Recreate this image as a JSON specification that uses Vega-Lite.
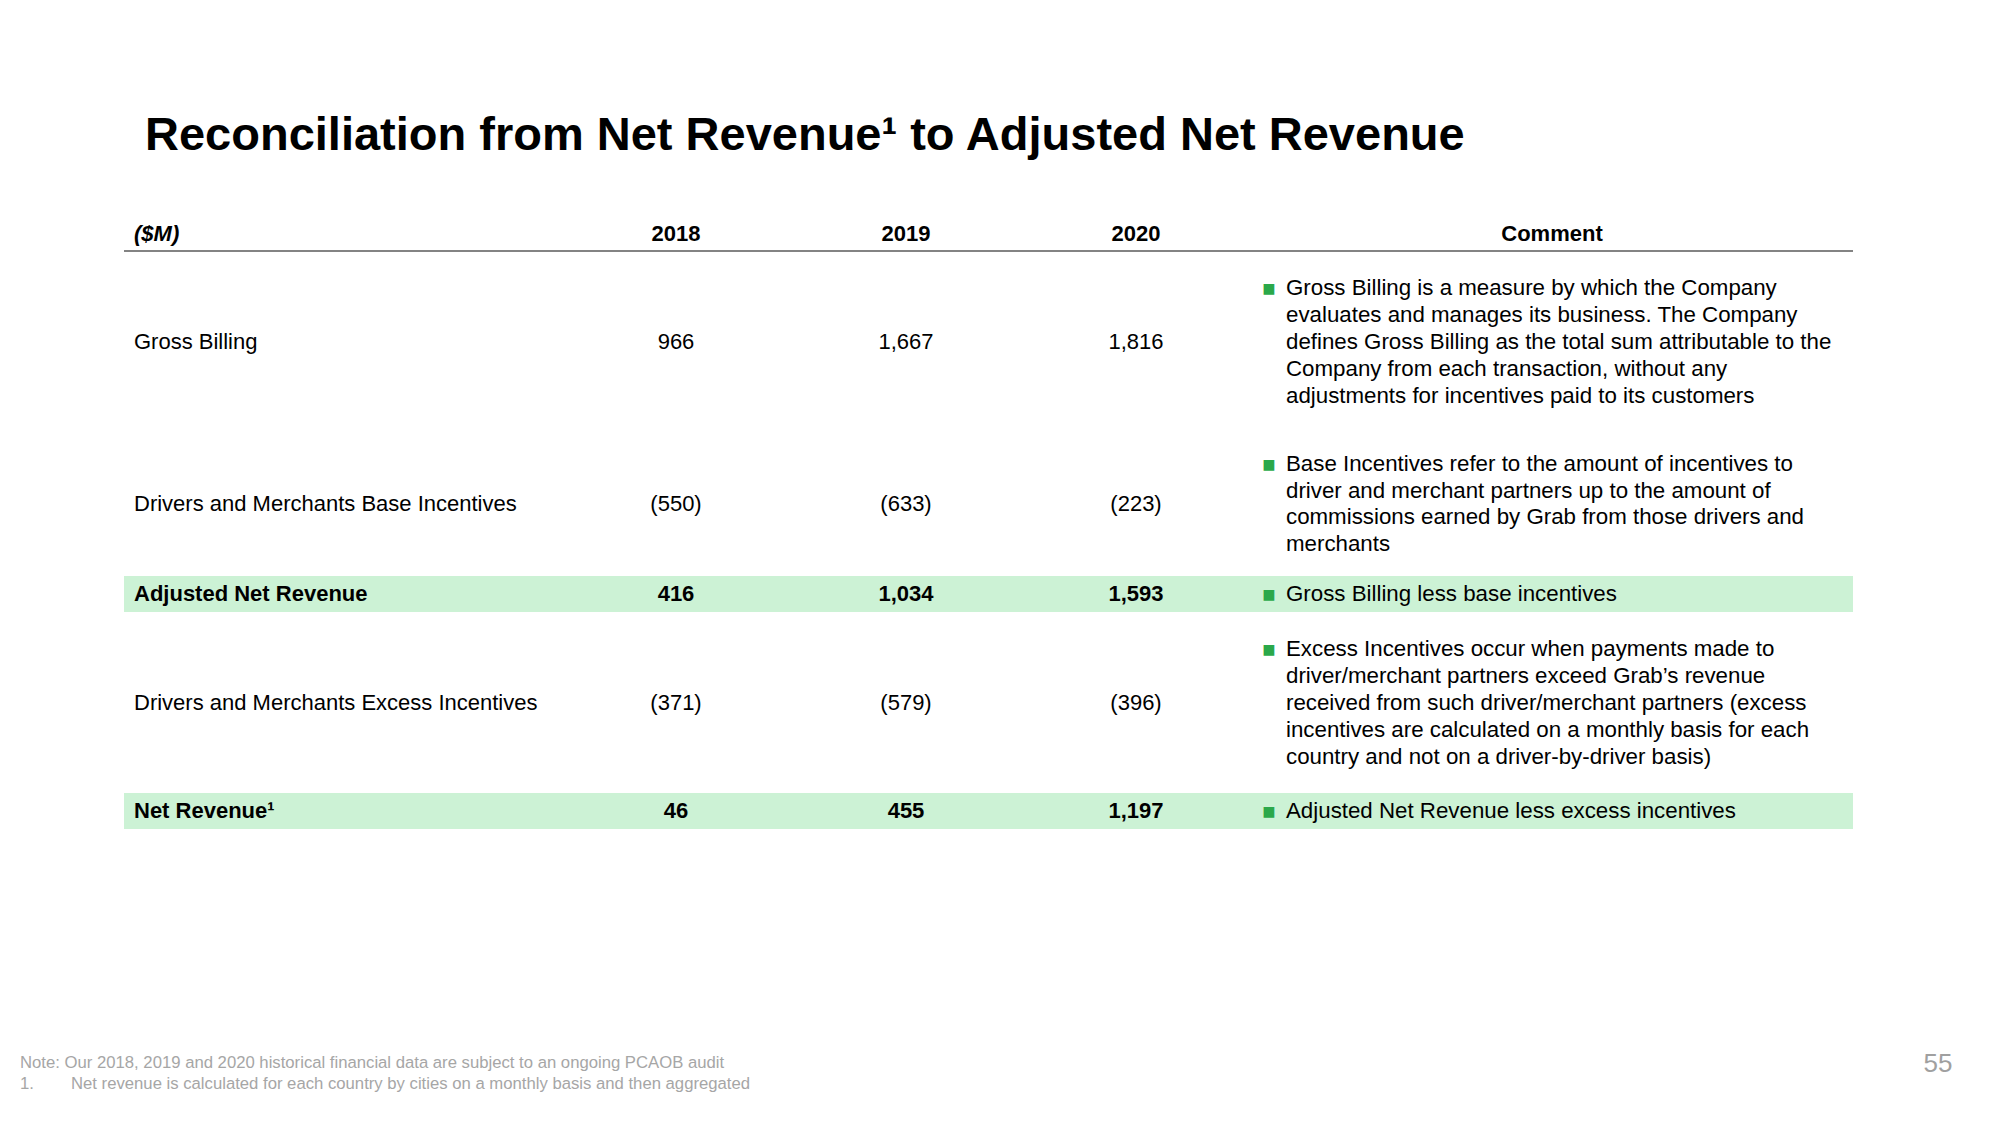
{
  "$schema": "https://vega.github.io/schema/vega-lite/v6.json",
  "width": 2000,
  "height": 1125,
  "padding": 0,
  "autosize": {"type": "none"},
  "background": "#ffffff",
  "title": {
    "text": "Reconciliation from Net Revenue¹ to Adjusted Net Revenue",
    "anchor": "start",
    "frame": "group",
    "orient": "top",
    "offset": -197,
    "dx": 145,
    "baseline": "alphabetic",
    "font": "Liberation Sans",
    "fontSize": 47,
    "fontWeight": "bold",
    "color": "#000000"
  },
  "config": {"view": {"stroke": null}},
  "datasets": {
    "table": [
      {"order": 1, "item": "Gross Billing", "total": false, "2018": "966", "2019": "1,667", "2020": "1,816",
       "comment": ["Gross Billing is a measure by which the Company", "evaluates and manages its business. The Company", "defines Gross Billing as the total sum attributable to the", "Company from each transaction, without any", "adjustments for incentives paid to its customers"]},
      {"order": 2, "item": "Drivers and Merchants Base Incentives", "total": false, "2018": "(550)", "2019": "(633)", "2020": "(223)",
       "comment": ["Base Incentives refer to the amount of incentives to", "driver and merchant partners up to the amount of", "commissions earned by Grab from those drivers and", "merchants"]},
      {"order": 3, "item": "Adjusted Net Revenue", "total": true, "2018": "416", "2019": "1,034", "2020": "1,593",
       "comment": ["Gross Billing less base incentives"]},
      {"order": 4, "item": "Drivers and Merchants Excess Incentives", "total": false, "2018": "(371)", "2019": "(579)", "2020": "(396)",
       "comment": ["Excess Incentives occur when payments made to", "driver/merchant partners exceed Grab’s revenue", "received from such driver/merchant partners (excess", "incentives are calculated on a monthly basis for each", "country and not on a driver-by-driver basis)"]},
      {"order": 5, "item": "Net Revenue¹", "total": true, "2018": "46", "2019": "455", "2020": "1,197",
       "comment": ["Adjusted Net Revenue less excess incentives"]}
    ],
    "notes": [
      {"marker": "Note:", "text": "Note: Our 2018, 2019 and 2020 historical financial data are subject to an ongoing PCAOB audit", "line": 1},
      {"marker": "1.", "text": "Net revenue is calculated for each country by cities on a monthly basis and then aggregated", "line": 2}
    ]
  },
  "layer": [
    {
      "data": {"name": "table"},
      "transform": [{"filter": "datum.total"}],
      "mark": {"type": "rule", "stroke": "#CCF2D5", "strokeWidth": 36, "strokeCap": "butt"},
      "encoding": {
        "y": {"field": "order", "type": "quantitative", "axis": null,
              "scale": {"domain": [0, 1, 2, 3, 4, 5], "range": [234, 342, 504, 594, 703, 811], "zero": false, "nice": false}},
        "x": {"value": 124},
        "x2": {"value": 1853}
      }
    },
    {
      "data": {"values": [{"line": "header"}]},
      "mark": {"type": "rule", "stroke": "#5a5a5a", "strokeWidth": 1.5},
      "encoding": {
        "y": {"value": 251},
        "x": {"value": 124},
        "x2": {"value": 1853}
      }
    },
    {
      "data": {"values": [{"label": "($M)"}]},
      "mark": {"type": "text", "align": "left", "baseline": "middle", "font": "Liberation Sans", "fontSize": 22, "fontWeight": "bold", "fontStyle": "italic", "color": "#000000"},
      "encoding": {
        "text": {"field": "label", "type": "nominal"},
        "x": {"value": 134},
        "y": {"datum": 0, "type": "quantitative", "axis": null,
              "scale": {"domain": [0, 1, 2, 3, 4, 5], "range": [234, 342, 504, 594, 703, 811], "zero": false, "nice": false}}
      }
    },
    {
      "data": {"values": [{"label": "Comment"}]},
      "mark": {"type": "text", "align": "center", "baseline": "middle", "font": "Liberation Sans", "fontSize": 22, "fontWeight": "bold", "color": "#000000"},
      "encoding": {
        "text": {"field": "label", "type": "nominal"},
        "x": {"value": 1552},
        "y": {"datum": 0, "type": "quantitative", "axis": null,
              "scale": {"domain": [0, 1, 2, 3, 4, 5], "range": [234, 342, 504, 594, 703, 811], "zero": false, "nice": false}}
      }
    },
    {
      "data": {"name": "table"},
      "transform": [{"filter": "datum.order == 1"}, {"fold": ["2018", "2019", "2020"], "as": ["year", "value"]}],
      "mark": {"type": "text", "align": "center", "baseline": "middle", "font": "Liberation Sans", "fontSize": 22, "fontWeight": "bold", "color": "#000000"},
      "encoding": {
        "text": {"field": "year", "type": "nominal"},
        "x": {"field": "year", "type": "ordinal", "axis": null,
              "scale": {"type": "point", "domain": ["2018", "2019", "2020"], "range": [676, 1136], "padding": 0}},
        "y": {"datum": 0, "type": "quantitative", "axis": null,
              "scale": {"domain": [0, 1, 2, 3, 4, 5], "range": [234, 342, 504, 594, 703, 811], "zero": false, "nice": false}}
      }
    },
    {
      "data": {"name": "table"},
      "mark": {"type": "text", "align": "left", "baseline": "middle", "font": "Liberation Sans", "fontSize": 22, "color": "#000000",
               "fontWeight": {"expr": "datum.total ? 'bold' : 'normal'"}},
      "encoding": {
        "text": {"field": "item", "type": "nominal"},
        "x": {"value": 134},
        "y": {"field": "order", "type": "quantitative", "axis": null,
              "scale": {"domain": [0, 1, 2, 3, 4, 5], "range": [234, 342, 504, 594, 703, 811], "zero": false, "nice": false}}
      }
    },
    {
      "data": {"name": "table"},
      "transform": [{"fold": ["2018", "2019", "2020"], "as": ["year", "value"]}],
      "mark": {"type": "text", "align": "center", "baseline": "middle", "font": "Liberation Sans", "fontSize": 22, "color": "#000000",
               "fontWeight": {"expr": "datum.total ? 'bold' : 'normal'"}},
      "encoding": {
        "text": {"field": "value", "type": "nominal"},
        "x": {"field": "year", "type": "ordinal", "axis": null,
              "scale": {"type": "point", "domain": ["2018", "2019", "2020"], "range": [676, 1136], "padding": 0}},
        "y": {"field": "order", "type": "quantitative", "axis": null,
              "scale": {"domain": [0, 1, 2, 3, 4, 5], "range": [234, 342, 504, 594, 703, 811], "zero": false, "nice": false}}
      }
    },
    {
      "data": {"name": "table"},
      "mark": {"type": "text", "text": "■", "align": "center", "baseline": "middle", "font": "Liberation Sans", "fontSize": 22, "color": "#2BA84A",
               "dy": {"expr": "-(length(datum.comment) - 1) * 13.4 + 1"}},
      "encoding": {
        "x": {"value": 1269},
        "y": {"field": "order", "type": "quantitative", "axis": null,
              "scale": {"domain": [0, 1, 2, 3, 4, 5], "range": [234, 342, 504, 594, 703, 811], "zero": false, "nice": false}}
      }
    },
    {
      "data": {"name": "table"},
      "mark": {"type": "text", "align": "left", "baseline": "middle", "font": "Liberation Sans", "fontSize": 22.3, "lineHeight": 26.8, "color": "#000000",
               "dy": {"expr": "-(length(datum.comment) - 1) * 13.4"}},
      "encoding": {
        "text": {"field": "comment", "type": "nominal"},
        "x": {"value": 1286},
        "y": {"field": "order", "type": "quantitative", "axis": null,
              "scale": {"domain": [0, 1, 2, 3, 4, 5], "range": [234, 342, 504, 594, 703, 811], "zero": false, "nice": false}}
      }
    },
    {
      "data": {"name": "notes"},
      "mark": {"type": "text", "align": "left", "baseline": "middle", "font": "Liberation Sans", "fontSize": 16.7, "color": "#A6A6A6"},
      "transform": [{"filter": "datum.line == 1"}],
      "encoding": {
        "text": {"field": "text", "type": "nominal"},
        "x": {"value": 20},
        "y": {"value": 1063}
      }
    },
    {
      "data": {"name": "notes"},
      "mark": {"type": "text", "align": "left", "baseline": "middle", "font": "Liberation Sans", "fontSize": 16.7, "color": "#A6A6A6"},
      "transform": [{"filter": "datum.line == 2"}],
      "encoding": {
        "text": {"field": "marker", "type": "nominal"},
        "x": {"value": 20},
        "y": {"value": 1084}
      }
    },
    {
      "data": {"name": "notes"},
      "mark": {"type": "text", "align": "left", "baseline": "middle", "font": "Liberation Sans", "fontSize": 16.7, "color": "#A6A6A6"},
      "transform": [{"filter": "datum.line == 2"}],
      "encoding": {
        "text": {"field": "text", "type": "nominal"},
        "x": {"value": 71},
        "y": {"value": 1084}
      }
    },
    {
      "data": {"values": [{"page": "55"}]},
      "mark": {"type": "text", "align": "center", "baseline": "middle", "font": "Liberation Sans", "fontSize": 26, "color": "#A0A0A0"},
      "encoding": {
        "text": {"field": "page", "type": "nominal"},
        "x": {"value": 1938},
        "y": {"value": 1064}
      }
    }
  ]
}
